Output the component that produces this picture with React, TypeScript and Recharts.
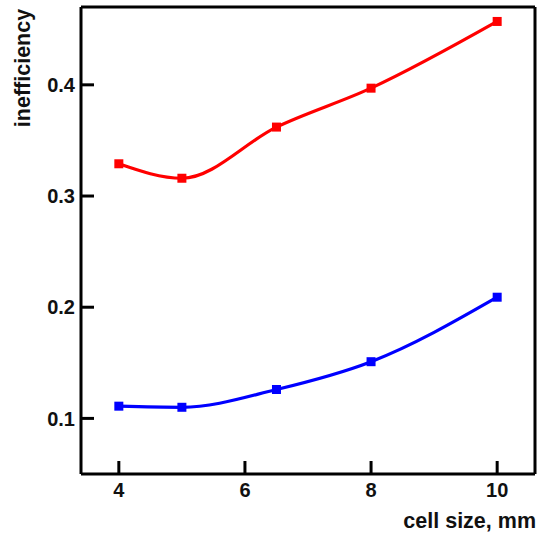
import { LineChart, Line, XAxis, YAxis, Label } from 'recharts';

const cellSizes = [4, 5, 6.5, 8, 10];
const upperSeries = [0.329, 0.316, 0.362, 0.397, 0.457];
const lowerSeries = [0.111, 0.110, 0.126, 0.151, 0.209];
const xTicks = [4, 6, 8, 10];
const yTicks = [0.1, 0.2, 0.3, 0.4];

const data = cellSizes.map((x, i) => ({ x, upper: upperSeries[i], lower: lowerSeries[i] }));

const font = '"Liberation Sans", Arial, sans-serif';
const tickStyle = { fill: '#111', fontSize: 20, fontWeight: 700, fontFamily: font };

const SquareDot = (color: string) => (props: any) => {
  const { cx, cy, key } = props;
  if (cx == null || cy == null) return null;
  return <rect key={key} x={cx - 4.5} y={cy - 4.5} width={9} height={9} fill={color} />;
};

export default function App() {
  return (
    <div style={{ position: 'absolute', left: 0, top: 0, background: '#fff' }}>
      <LineChart
        width={539}
        height={534}
        data={data}
        margin={{ top: 6, right: 3, left: 0, bottom: 0 }}
      >
        <XAxis
          dataKey="x"
          type="number"
          domain={[3.4, 10.6]}
          ticks={xTicks}
          height={60}
          tickSize={-13}
          tickMargin={22}
          tick={tickStyle}
          axisLine={{ stroke: '#000', strokeWidth: 3 }}
          tickLine={{ stroke: '#000', strokeWidth: 3 }}
          allowDataOverflow
        >
          <Label
            content={({ viewBox }: any) => (
              <text
                x={viewBox.x + viewBox.width + 1}
                y={viewBox.y + 54}
                textAnchor="end"
                fontFamily={font}
                fontWeight={700}
                fontSize={21.5}
                fill="#111"
              >
                cell size, mm
              </text>
            )}
          />
        </XAxis>
        <XAxis
          xAxisId="top"
          dataKey="x"
          type="number"
          orientation="top"
          domain={[3.4, 10.6]}
          ticks={xTicks}
          height={1}
          tickSize={-13}
          tick={false}
          axisLine={{ stroke: '#000', strokeWidth: 3 }}
          tickLine={{ stroke: '#000', strokeWidth: 3 }}
          allowDataOverflow
        />
        <YAxis
          type="number"
          domain={[0.05, 0.47]}
          ticks={yTicks}
          width={81}
          tickSize={-13}
          tickMargin={19}
          tick={tickStyle}
          axisLine={{ stroke: '#000', strokeWidth: 3 }}
          tickLine={{ stroke: '#000', strokeWidth: 3 }}
          allowDataOverflow
        >
          <Label
            content={() => (
              <text
                x={30}
                y={68}
                transform="rotate(-90 30 68)"
                textAnchor="middle"
                fontFamily={font}
                fontWeight={700}
                fontSize={21.5}
                fill="#111"
              >
                inefficiency
              </text>
            )}
          />
        </YAxis>
        <YAxis
          yAxisId="right"
          type="number"
          orientation="right"
          domain={[0.05, 0.47]}
          ticks={yTicks}
          width={1}
          tickSize={-13}
          tick={false}
          axisLine={{ stroke: '#000', strokeWidth: 3 }}
          tickLine={{ stroke: '#000', strokeWidth: 3 }}
          allowDataOverflow
        />
        <Line
          type="monotone"
          dataKey="upper"
          stroke="#ff0000"
          strokeWidth={3.2}
          dot={SquareDot('#ff0000')}
          isAnimationActive={false}
        />
        <Line
          type="monotone"
          dataKey="lower"
          stroke="#0000ff"
          strokeWidth={3.2}
          dot={SquareDot('#0000ff')}
          isAnimationActive={false}
        />
      </LineChart>
    </div>
  );
}
